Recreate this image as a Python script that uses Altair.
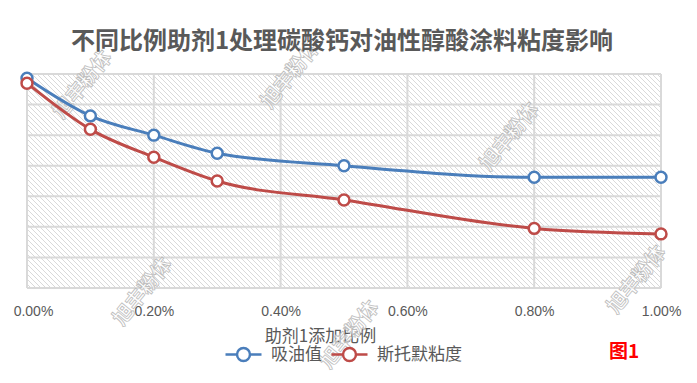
import altair as alt
import pandas as pd

# ---------------- data ----------------
ratio = [0.0, 0.001, 0.002, 0.003, 0.005, 0.008, 0.010]
oil_absorption = [68.6, 56.3, 50.0, 44.1, 40.0, 36.2, 36.2]
stormer_viscosity = [67.0, 51.9, 42.8, 35.0, 28.8, 19.5, 17.7]
series_names = ["吸油值", "斯托默粘度"]
series_colors = ["#4a7ebb", "#be4b48"]
x_ticks = [0.0, 0.002, 0.004, 0.006, 0.008, 0.010]
y_grid = [0, 10, 20, 30, 40, 50, 60, 70]

title_text = "不同比例助剂1处理碳酸钙对油性醇酸涂料粘度影响"
x_title = "助剂1添加比例"
fig_label = "图1"
watermark_text = "旭丰粉体"
wm_px = [56, 264, 483, 116, 323, 610]
wm_py = [11, 1, 63, 218, 261, 206]

rows = []
for name, vals in zip(series_names, [oil_absorption, stormer_viscosity]):
    for x, v in zip(ratio, vals):
        rows.append({"ratio": x, "value": v, "series": name})
df = pd.DataFrame(rows)

W, H = 634, 214
XMAX, YMAX = 0.01, 70
xs = alt.Scale(domain=[0, XMAX], nice=False, zero=False)
ys = alt.Scale(domain=[0, YMAX], nice=False, zero=False)
cs = alt.Scale(domain=series_names, range=series_colors)

CJK = "Noto Sans CJK SC"
GRAY = "#595959"

x_axis = alt.Axis(
    values=x_ticks,
    format=".2%",
    grid=False,
    domain=False,
    ticks=False,
    labelFlush=False,
    labelFontSize=14,
    labelFont="Liberation Sans",
    labelColor=GRAY,
    labelPadding=16,
    labelOffset={"condition": {"test": "datum.value == 0", "value": 6}, "value": 0},
    title=x_title,
    titleFont=CJK,
    titleFontSize=17,
    titleFontWeight="normal",
    titleColor=GRAY,
    titlePadding=10,
    titleX=293,
)

# ---------------- hatch background ----------------
step = 5
hatch = (
    alt.Chart(alt.sequence(-int(H / step) - 2, int(W / step) + 2, as_="k"))
    .transform_calculate(
        hx1=f"datum.k*{step}/{W}*{XMAX}",
        hx2=f"datum.k*{step}/{W}*{XMAX} + {H}/{W}*{XMAX}",
        hy1=f"{YMAX}",
        hy2="0",
    )
    .mark_rule(clip=True, color="#d9d9d9", strokeWidth=1)
    .encode(
        x=alt.X("hx1:Q", scale=xs, axis=x_axis),
        x2="hx2:Q",
        y=alt.Y("hy1:Q", scale=ys, axis=None),
        y2="hy2:Q",
    )
)

# ---------------- gridlines ----------------
hgrid = (
    alt.Chart(pd.DataFrame({"g": y_grid}))
    .mark_rule(color="#d9d9d9", strokeWidth=2)
    .encode(y=alt.Y("g:Q", scale=ys, axis=None), x=alt.value(0), x2=alt.value(W))
)
vgrid = (
    alt.Chart(pd.DataFrame({"g": x_ticks}))
    .mark_rule(color="#d9d9d9", strokeWidth=2)
    .encode(x=alt.X("g:Q", scale=xs, axis=x_axis), y=alt.value(0), y2=alt.value(H))
)

# ---------------- watermarks ----------------
wms = []
for px, py in zip(wm_px, wm_py):
    wms.append(
        alt.Chart(pd.DataFrame({"t": [watermark_text]}))
        .mark_text(
            font=CJK,
            fontSize=20,
            fontWeight="bold",
            angle=309,
            fill="white",
            fillOpacity=0.6,
            stroke="#bdbdbd",
            strokeWidth=0.8,
            align="center",
            baseline="middle",
        )
        .encode(text="t:N", x=alt.value(px), y=alt.value(py))
    )

# ---------------- series ----------------
sym_path = "M-1,0 L-0.36,0 M0.36,0 L1,0 M0.36,0 A0.36,0.36 0 1 1 -0.36,0 A0.36,0.36 0 1 1 0.36,0"
leg = alt.Legend(
    title=None,
    orient="none",
    legendX=197,
    legendY=261,
    direction="horizontal",
    symbolType=sym_path,
    symbolSize=1296,
    symbolStrokeWidth=2.5,
    symbolFillColor="white",
    labelFont=CJK,
    labelFontSize=17,
    labelColor=GRAY,
    labelOffset=8,
    columnPadding=4,
)

base = alt.Chart(df).encode(
    x=alt.X("ratio:Q", scale=xs, axis=x_axis),
    y=alt.Y("value:Q", scale=ys, axis=None),
    color=alt.Color("series:N", scale=cs, legend=leg, sort=series_names),
    detail="series:N",
)
lines = base.mark_line(interpolate="monotone", strokeWidth=3)
points = base.mark_point(
    filled=False, fill="white", fillOpacity=1, opacity=1, size=120, strokeWidth=2.5
)

title_mark = (
    alt.Chart(pd.DataFrame({"t": [title_text]}))
    .mark_text(font=CJK, fontSize=24, fontWeight="bold", color=GRAY, align="center", baseline="middle")
    .encode(text="t:N", x=alt.value(W / 2 - 2), y=alt.value(-32))
)

fig_text = (
    alt.Chart(pd.DataFrame({"t": [fig_label]}))
    .mark_text(font=CJK, fontSize=19, fontWeight="bold", color="#ff0000", align="left", baseline="middle")
    .encode(text="t:N", x=alt.value(582), y=alt.value(278))
)

chart = (
    alt.layer(hatch, hgrid, vgrid, *wms, lines, points, title_mark, fig_text)
    .properties(
        width=W,
        height=H,
        padding={"left": 19, "top": 66, "right": 28, "bottom": 87},
        autosize=alt.AutoSizeParams(type="none"),
        background="white",
    )
    .configure_view(stroke=None)
)

chart.save("out.html", embed_options={"renderer": "svg", "actions": False})
